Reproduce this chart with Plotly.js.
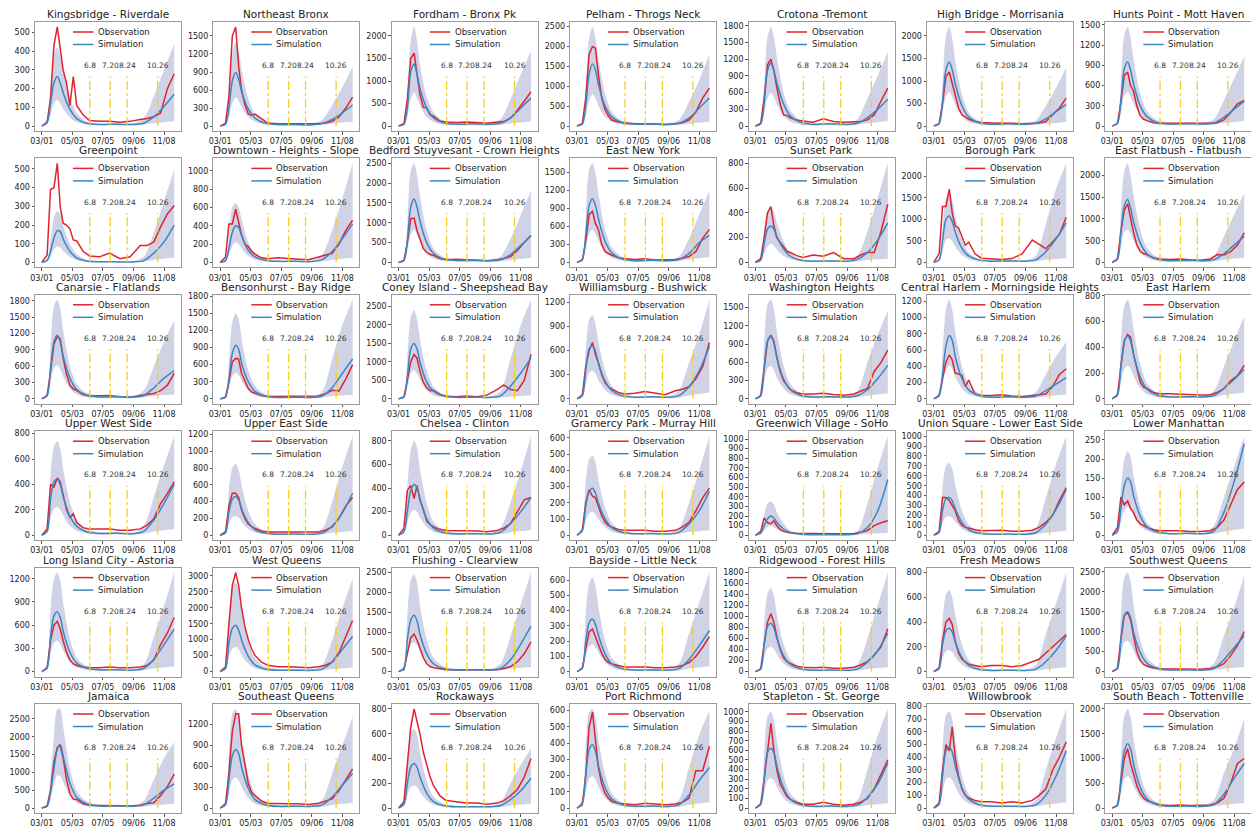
<!DOCTYPE html>
<html><head><meta charset="utf-8">
<script src="https://cdn.plot.ly/plotly-3.0.1.min.js"></script>
<style>html,body{margin:0;padding:0;background:#fff}</style>
</head><body>
<div id="chart" style="width:1251px;height:829px"></div>
<script>
const TITLES = ["Kingsbridge - Riverdale","Northeast Bronx","Fordham - Bronx Pk","Pelham - Throgs Neck","Crotona -Tremont","High Bridge - Morrisania","Hunts Point - Mott Haven",
"Greenpoint","Downtown - Heights - Slope","Bedford Stuyvesant - Crown Heights","East New York","Sunset Park","Borough Park","East Flatbush - Flatbush",
"Canarsie - Flatlands","Bensonhurst - Bay Ridge","Coney Island - Sheepshead Bay","Williamsburg - Bushwick","Washington Heights","Central Harlem - Morningside Heights","East Harlem",
"Upper West Side","Upper East Side","Chelsea - Clinton","Gramercy Park - Murray Hill","Greenwich Village - SoHo","Union Square - Lower East Side","Lower Manhattan",
"Long Island City - Astoria","West Queens","Flushing - Clearview","Bayside - Little Neck","Ridgewood - Forest Hills","Fresh Meadows","Southwest Queens",
"Jamaica","Southeast Queens","Rockaways","Port Richmond","Stapleton - St. George","Willowbrook","South Beach - Tottenville"];

const DTICKS = [100,300,500,500,300,500,300, 100,200,500,300,200,500,500, 300,300,500,300,300,200,200, 200,200,200,100,100,100,50, 300,500,500,100,200,200,500, 500,300,200,100,100,100,500];

const OBS_DATES = ["2020-03-01","2020-03-12","2020-03-19","2020-03-26","2020-04-02","2020-04-08","2020-04-14","2020-04-21","2020-04-28","2020-05-05","2020-05-12","2020-05-25","2020-06-07","2020-06-28","2020-07-19","2020-08-09","2020-08-30","2020-09-20","2020-10-04","2020-10-18","2020-11-01","2020-11-15","2020-11-29"];
const SIM_DATES = ["2020-03-01","2020-03-12","2020-03-19","2020-03-26","2020-04-02","2020-04-08","2020-04-15","2020-04-28","2020-05-12","2020-06-01","2020-06-28","2020-08-02","2020-09-06","2020-09-27","2020-10-18","2020-11-08","2020-11-29"];

const OBS = [
[0,20,150,430,530,400,300,230,110,265,110,60,30,25,25,20,25,35,40,50,70,200,280],
[0,50,500,1500,1650,1000,600,350,200,180,200,120,50,40,40,35,30,40,50,80,150,300,480],
[0,50,600,1500,1620,1100,700,420,400,250,220,110,90,80,90,80,60,90,100,180,350,550,760],
[0,60,700,1800,1990,1950,1300,700,400,250,150,100,80,60,60,50,40,60,80,150,350,700,950],
[0,50,500,1100,1200,1000,700,400,200,190,150,110,90,70,130,80,70,70,80,110,200,450,680],
[0,50,500,1100,1200,950,750,400,250,200,150,100,80,70,70,60,50,60,70,100,250,400,620],
[0,40,350,750,800,600,520,300,150,100,80,50,40,40,40,35,30,40,50,90,200,330,380],
[0,40,390,400,530,300,210,200,180,120,115,60,35,30,50,20,30,90,90,110,190,260,305],
[0,60,420,420,580,450,300,200,170,120,90,50,40,50,40,35,30,60,80,100,200,350,460],
[0,50,500,1100,1120,800,600,350,250,200,180,100,70,80,70,50,40,70,100,150,300,500,680],
[0,40,350,800,850,650,550,300,180,150,120,80,60,50,60,40,40,50,70,100,180,400,550],
[0,30,200,400,450,300,200,160,120,90,80,55,40,60,50,80,30,30,60,80,80,250,470],
[0,200,1300,1300,1700,1150,850,800,600,400,470,200,100,80,70,90,200,520,430,320,480,650,1050],
[0,80,700,1200,1350,1000,700,400,250,200,180,100,80,70,80,60,50,80,180,170,250,400,680],
[0,60,500,1000,1150,1100,750,450,250,180,150,80,50,50,60,40,30,60,80,100,150,250,470],
[0,30,300,650,710,700,450,300,180,120,100,60,40,40,50,40,40,50,90,150,140,350,600],
[0,50,500,1000,1200,1100,750,450,300,220,230,120,70,60,80,60,100,250,380,250,220,500,1200],
[0,50,400,600,700,550,450,300,200,150,120,80,60,70,90,70,50,100,120,150,250,400,700],
[0,50,500,950,1050,950,700,450,300,220,150,100,80,80,90,70,60,80,130,170,450,600,800],
[0,40,250,450,540,480,320,300,290,150,230,60,40,40,50,35,30,40,50,60,150,300,370],
[0,30,250,450,500,480,350,250,130,90,80,50,40,40,35,30,30,30,50,80,140,180,260],
[0,50,400,380,450,420,320,200,140,170,100,60,50,50,50,40,40,50,80,130,250,330,420],
[0,40,350,500,500,450,300,200,130,100,80,50,40,40,40,35,35,40,60,100,200,350,450],
[0,60,380,420,310,420,300,220,120,90,70,50,40,40,40,35,30,40,60,100,200,300,320],
[0,30,200,280,240,230,180,120,80,60,50,35,30,30,30,25,25,30,50,80,150,230,290],
[0,40,180,130,120,150,100,60,40,30,25,20,18,18,18,15,15,18,30,50,100,130,150],
[0,40,380,380,350,300,250,150,100,80,70,55,45,50,50,40,40,50,80,130,200,350,480],
[0,20,100,80,90,70,60,40,30,25,20,15,12,12,12,10,10,12,20,40,80,120,140],
[0,50,400,600,650,550,400,250,150,100,80,60,50,50,60,50,50,60,80,150,350,500,700],
[0,150,1500,2700,3100,2700,2000,1400,1000,700,500,300,200,150,150,130,120,150,200,300,600,1100,1600],
[0,50,450,850,950,800,600,350,200,130,100,70,50,50,50,40,40,50,80,130,250,450,750],
[0,20,150,260,280,230,180,120,80,60,50,40,30,30,30,25,25,30,40,60,100,160,230],
[0,50,500,900,1050,900,650,400,250,180,150,100,80,70,80,60,60,80,120,180,300,450,780],
[0,30,250,400,430,380,250,150,100,80,60,50,40,50,50,40,50,80,100,150,200,250,300],
[0,80,800,1400,1480,1300,900,500,280,180,140,90,70,70,70,60,60,80,120,200,400,650,1000],
[0,60,500,1300,1700,1750,1400,800,400,250,240,120,80,70,80,70,60,80,130,150,350,600,950],
[0,60,500,1100,1350,1350,900,600,350,220,180,100,70,60,60,60,50,70,100,130,250,400,560],
[0,50,350,650,800,700,600,450,350,250,180,100,60,50,40,40,30,40,60,100,150,250,400],
[0,20,200,500,590,400,250,150,90,60,40,30,25,20,30,25,20,25,35,60,230,230,380],
[0,40,300,600,880,600,400,250,180,120,90,60,40,40,60,40,30,40,60,100,200,350,500],
[0,40,300,500,450,640,400,250,150,100,80,60,50,50,40,50,40,60,100,150,300,400,520],
[0,50,500,1000,1200,900,700,450,300,200,150,100,60,50,60,50,50,60,100,200,500,900,1000]
];

const SIM = [
[0,20,120,230,265,230,170,90,40,15,8,10,8,15,50,105,170],
[0,30,300,750,890,780,550,280,130,50,25,25,20,40,110,220,350],
[0,40,400,1200,1380,1150,800,400,180,70,40,50,40,60,180,400,620],
[0,50,500,1300,1550,1400,1000,500,230,90,50,50,40,70,200,450,700],
[0,40,400,1000,1130,1000,750,400,180,70,30,40,30,50,150,300,480],
[0,50,550,1250,1420,1250,900,450,200,80,40,50,40,60,160,320,480],
[0,40,380,850,950,830,600,300,140,55,30,35,30,45,130,250,370],
[0,10,60,130,170,165,120,60,25,8,4,3,3,10,50,110,200],
[0,20,150,330,400,380,280,130,60,25,12,12,10,30,120,260,420],
[0,50,550,1400,1600,1400,1000,500,230,90,50,55,45,70,200,430,680],
[0,50,450,950,1060,950,700,350,160,60,30,35,30,50,150,330,450],
[0,20,150,270,295,270,200,110,50,20,10,12,10,25,80,180,320],
[0,60,500,1000,1080,950,680,330,150,60,30,35,30,60,250,550,920],
[0,80,700,1300,1450,1250,900,450,200,80,40,45,40,60,200,400,600],
[0,60,550,1050,1170,1050,750,380,170,70,35,40,35,60,200,380,520],
[0,30,350,800,940,870,600,300,130,50,25,30,25,50,200,450,700],
[0,50,600,1350,1500,1350,950,450,200,80,40,45,40,80,350,700,1100],
[0,40,350,620,660,590,420,220,100,40,20,25,20,40,150,350,650],
[0,50,500,950,1030,920,650,330,150,60,30,35,30,50,150,330,550],
[0,40,300,650,780,720,500,250,110,45,20,25,20,35,100,180,260],
[0,30,250,440,490,450,330,170,75,30,15,17,15,25,80,150,230],
[0,30,280,420,440,400,290,150,70,28,14,15,12,30,120,250,400],
[0,30,280,430,460,420,300,150,65,26,13,15,12,25,110,270,500],
[0,30,200,380,430,400,290,140,60,24,12,13,11,25,100,200,320],
[0,30,180,270,290,260,190,100,45,18,9,10,8,18,70,150,270],
[0,20,100,170,200,180,130,65,28,11,5,6,5,15,80,250,580],
[0,30,250,370,380,350,260,130,55,22,11,12,10,25,110,260,460],
[0,10,70,130,150,140,100,50,22,9,4,5,4,10,60,140,240],
[0,50,450,720,770,700,500,250,110,45,22,25,20,40,160,350,550],
[0,100,900,1350,1450,1300,950,480,210,85,42,45,40,80,300,700,1100],
[0,80,800,1300,1420,1280,900,450,200,80,40,45,40,80,300,700,1150],
[0,25,200,320,345,310,230,115,50,20,10,11,10,20,80,170,270],
[0,50,480,820,880,800,580,290,130,52,26,28,24,45,170,380,700],
[0,25,220,330,350,320,230,115,50,20,10,11,10,20,80,170,290],
[0,80,800,1400,1500,1350,950,480,210,85,42,45,40,80,300,600,900],
[0,50,450,1100,1650,1780,1400,700,300,120,55,60,55,90,280,500,680],
[0,50,400,750,840,780,560,280,120,48,24,27,24,45,160,330,500],
[0,30,200,330,360,330,240,120,52,21,10,11,10,20,70,140,240],
[0,30,200,360,390,350,250,125,55,22,11,12,10,20,80,170,250],
[0,40,300,580,620,580,420,210,92,37,18,20,17,30,110,250,470],
[0,30,250,450,480,440,320,160,70,28,14,15,13,25,100,250,450],
[0,60,600,1150,1300,1200,850,420,180,72,36,40,35,70,280,600,900]
];

const UPPER = [
[0,40,200,380,420,380,290,150,70,25,12,15,15,40,160,300,440],
[0,60,500,1200,1400,1250,900,450,200,80,40,40,40,100,350,650,980],
[0,80,700,1900,2200,1900,1300,650,300,120,70,80,70,150,600,1150,1660],
[0,90,900,2200,2480,2200,1600,800,350,140,80,80,70,150,600,1150,1800],
[0,80,700,1600,1780,1600,1200,600,280,110,60,60,50,120,500,900,1330],
[0,90,900,2000,2200,1950,1400,700,300,120,70,70,60,120,450,850,1300],
[0,80,650,1350,1470,1300,950,470,220,90,50,55,50,100,380,700,1030],
[0,20,120,240,275,260,190,100,45,15,8,8,8,30,160,330,495],
[0,50,300,600,650,600,450,220,100,40,20,20,20,80,350,700,1080],
[0,100,1000,2300,2500,2200,1600,800,350,140,80,80,70,150,600,1200,1800],
[0,90,750,1550,1650,1500,1100,550,250,100,55,55,50,100,400,800,1200],
[0,40,250,420,450,410,310,170,80,30,15,18,15,50,250,520,800],
[0,120,800,1500,1600,1450,1050,520,230,90,50,55,50,150,900,1700,2300],
[0,150,1200,2100,2280,2000,1500,750,330,130,70,70,60,130,600,1100,1600],
[0,120,950,1700,1820,1650,1200,600,270,110,60,60,50,150,600,1050,1430],
[0,70,650,1350,1500,1400,1000,500,220,85,45,45,40,120,700,1300,1740],
[0,100,1100,2200,2400,2150,1550,750,330,130,70,70,60,200,1100,2000,2680],
[0,70,600,980,1040,930,680,350,160,65,35,35,30,100,450,800,1230],
[0,110,900,1550,1630,1480,1080,550,250,100,55,55,50,120,600,1050,1450],
[0,80,550,1100,1220,1100,800,400,180,70,35,35,30,80,300,520,700],
[0,60,450,720,770,700,520,270,120,50,25,25,22,60,250,450,640],
[0,60,480,700,740,680,500,260,120,50,25,25,22,70,300,550,780],
[0,70,550,800,850,780,570,290,130,50,25,25,22,70,400,820,1180],
[0,60,400,720,800,740,540,270,115,45,22,22,20,60,280,550,840],
[0,60,330,470,490,450,330,170,75,30,15,15,13,40,200,400,610],
[0,40,200,330,350,320,230,120,50,20,10,10,9,40,330,700,1030],
[0,60,480,700,730,670,490,250,105,42,21,21,19,70,380,720,1000],
[0,20,120,200,220,205,150,75,33,13,6,6,6,25,100,180,260],
[0,100,800,1200,1280,1170,850,420,180,70,35,35,30,90,450,850,1280],
[0,200,1700,2650,2800,2550,1850,930,410,165,82,80,75,200,1000,2000,2900],
[0,160,1400,2300,2450,2250,1600,800,350,140,70,70,65,200,900,1700,2500],
[0,50,380,580,620,560,410,205,90,36,18,18,16,50,250,450,650],
[0,100,850,1420,1520,1380,1000,500,220,90,45,45,40,120,600,1200,1800],
[0,50,420,620,660,600,440,220,95,38,19,19,17,50,300,550,800],
[0,160,1400,2350,2480,2250,1600,800,350,140,70,70,65,200,900,1600,2400],
[0,100,900,2000,2780,2780,2200,1100,480,190,90,90,85,200,800,1400,1850],
[0,110,800,1350,1420,1300,950,480,210,85,42,42,38,110,500,900,1300],
[0,60,400,600,640,590,430,215,93,37,18,18,16,45,200,350,480],
[0,60,380,590,610,560,410,205,90,36,18,18,16,50,250,450,600],
[0,80,550,950,1000,920,680,340,150,60,30,30,27,80,400,750,1030],
[0,60,450,730,760,700,510,255,110,44,22,22,20,60,300,550,780],
[0,120,1000,1850,2000,1850,1350,680,300,120,60,60,55,160,700,1200,1800]
];

const LOWER = [
[0,10,60,120,140,120,90,45,20,8,4,5,4,8,15,20,25],
[0,15,150,380,480,420,300,150,70,25,10,10,10,20,40,60,70],
[0,20,200,600,750,620,430,200,90,35,15,20,15,30,60,80,100],
[0,25,250,650,800,700,480,230,100,40,20,20,15,30,60,90,110],
[0,20,200,500,600,520,380,190,80,30,12,15,12,25,50,70,90],
[0,25,300,650,760,650,460,220,90,35,15,20,15,25,50,70,90],
[0,20,200,450,510,440,320,160,70,28,12,15,12,20,45,60,80],
[0,5,30,70,85,80,60,30,12,4,2,2,2,5,15,20,25],
[0,10,80,180,220,200,150,70,30,12,5,5,5,10,30,40,50],
[0,25,280,700,820,700,500,240,100,40,18,20,15,30,60,90,110],
[0,20,220,480,550,480,350,170,75,30,12,15,12,25,50,70,90],
[0,10,70,130,150,135,100,55,25,10,4,5,4,8,20,25,30],
[0,30,250,520,560,490,350,170,75,30,12,15,12,25,60,80,100],
[0,40,350,700,760,660,480,240,100,40,18,20,15,30,60,90,110],
[0,30,300,560,620,540,390,190,80,30,12,15,12,25,50,70,80],
[0,15,180,400,460,420,300,150,60,25,10,12,10,20,50,60,70],
[0,25,300,700,780,680,490,230,100,40,18,20,15,30,60,80,100],
[0,15,180,320,350,310,220,110,50,20,8,10,8,15,40,60,80],
[0,25,280,500,540,480,340,170,75,30,12,15,12,25,50,70,90],
[0,20,160,350,410,370,260,130,55,22,8,10,8,15,30,45,55],
[0,15,130,230,255,235,170,85,38,15,6,7,6,12,30,40,50],
[0,15,140,210,225,200,150,75,35,14,6,7,6,12,30,40,50],
[0,15,140,215,230,210,150,75,33,13,6,7,6,12,30,40,50],
[0,15,100,190,215,200,145,70,30,12,5,6,5,10,25,35,45],
[0,15,90,135,145,130,95,50,22,9,4,4,4,8,20,25,30],
[0,10,50,85,95,85,60,30,13,5,2,2,2,5,15,20,25],
[0,15,125,185,190,175,130,65,28,11,5,6,5,10,25,35,45],
[0,5,35,65,75,70,50,25,11,4,2,2,2,4,10,14,18],
[0,25,230,370,400,360,260,130,55,22,9,10,9,18,40,55,65],
[0,50,480,720,780,700,500,250,110,45,18,20,18,35,80,110,130],
[0,40,420,680,740,670,470,240,105,42,17,20,17,35,70,100,120],
[0,12,100,165,180,160,120,60,26,10,4,5,4,8,20,28,35],
[0,25,250,420,450,410,300,150,66,26,10,12,10,20,45,65,80],
[0,12,110,165,175,160,115,58,25,10,4,5,4,8,20,28,35],
[0,40,420,730,770,690,490,245,108,43,17,20,17,35,70,95,115],
[0,25,250,650,920,900,700,350,150,60,25,28,25,40,80,100,120],
[0,25,220,400,440,400,290,145,62,25,10,12,10,20,45,60,75],
[0,15,100,170,185,170,125,62,27,11,4,5,4,8,20,28,35],
[0,15,100,180,195,175,125,62,27,11,4,5,4,8,20,28,35],
[0,20,150,290,310,290,210,105,46,18,7,8,7,14,30,40,50],
[0,15,125,225,240,220,160,80,35,14,6,7,6,12,25,35,45],
[0,30,300,580,640,590,420,210,92,37,15,18,15,30,60,85,100]
];

const EVENT_DATES = ["2020-06-08","2020-07-20","2020-08-24","2020-10-26"];
const EVENT_LABELS = ["6.8","7.20","8.24","10.26"];
const XTICK_DATES = ["2020-03-01","2020-05-03","2020-07-05","2020-09-06","2020-11-08"];
const XTICK_LABELS = ["03/01","05/03","07/05","09/06","11/08"];
const X_RANGE = ["2020-02-16","2020-12-13"];
const LEGEND_LABELS = ["Observation","Simulation"];

// styling / geometry
const FONT = "DejaVu Sans";
const RED = "#e0232d", BLUE = "#3c86c4", BAND = "rgba(40,50,140,0.22)", GOLD = "#f7cf1d";
const FW = 1251, FH = 829;
const COL0 = 35, COLP = 178.4, PW = 146;
const ROW0 = 22, ROWP = 136.4, PH = 109;

const traces = [], shapes = [], annotations = [];
const layout = {
  width: FW, height: FH, margin: {l:0, r:0, t:0, b:0},
  paper_bgcolor: "#fff", plot_bgcolor: "#fff", showlegend: false,
  font: {family: FONT, size: 8, color: "#222"}
};

TITLES.forEach((title, i) => {
  const n = i + 1, r = Math.floor(i / 7), c = i % 7;
  const sx = n === 1 ? "" : String(n);
  const xa = "x" + sx, ya = "y" + sx;
  const L = COL0 + COLP * c, T = ROW0 + ROWP * r;
  const M = Math.max(...OBS[i], ...UPPER[i], ...SIM[i]);
  const common = {
    showline: true, mirror: true, linecolor: "#9a9a9a", linewidth: 1,
    ticks: "outside", ticklen: 2.5, tickwidth: 1, tickcolor: "#555",
    showgrid: false, zeroline: false, fixedrange: true,
    tickfont: {family: FONT, size: 8, color: "#222"}
  };
  layout["xaxis" + sx] = Object.assign({}, common, {
    domain: [L / FW, (L + PW) / FW], anchor: ya, type: "date", range: X_RANGE,
    tickmode: "array", tickvals: XTICK_DATES, ticktext: XTICK_LABELS
  });
  layout["yaxis" + sx] = Object.assign({}, common, {
    domain: [1 - (T + PH) / FH, 1 - T / FH], anchor: xa,
    range: [-0.05 * M, 1.05 * M], tickmode: "linear", tick0: 0, dtick: DTICKS[i]
  });

  traces.push({x: SIM_DATES, y: LOWER[i], xaxis: xa, yaxis: ya, mode: "lines",
    line: {width: 0, shape: "spline", smoothing: 0.8}, hoverinfo: "skip", showlegend: false});
  traces.push({x: SIM_DATES, y: UPPER[i], xaxis: xa, yaxis: ya, mode: "lines", fill: "tonexty",
    fillcolor: BAND, line: {width: 0, shape: "spline", smoothing: 0.8}, hoverinfo: "skip", showlegend: false});
  traces.push({x: OBS_DATES, y: OBS[i], xaxis: xa, yaxis: ya, mode: "lines", name: LEGEND_LABELS[0],
    line: {color: RED, width: 1.5}, showlegend: false});
  traces.push({x: SIM_DATES, y: SIM[i], xaxis: xa, yaxis: ya, mode: "lines", name: LEGEND_LABELS[1],
    line: {color: BLUE, width: 1.5, shape: "spline", smoothing: 0.8}, showlegend: false});

  EVENT_DATES.forEach((d, k) => {
    shapes.push({type: "line", xref: xa, yref: ya + " domain", x0: d, x1: d, y0: 0.047, y1: 0.5,
      line: {color: GOLD, width: 1.3, dash: "dashdot"}});
    annotations.push({xref: xa, yref: ya + " domain", x: d, y: 0.6, text: EVENT_LABELS[k],
      showarrow: false, xanchor: "center", yanchor: "middle", borderpad: 0,
      font: {family: FONT, size: 7.5, color: "#333"}});
  });

  // title
  annotations.push({xref: "paper", yref: "paper", x: (L + PW / 2) / FW, y: 1 - (T - 1) / FH,
    text: title, showarrow: false, xanchor: "center", yanchor: "bottom", borderpad: 0,
    font: {family: FONT, size: 10.5, color: "#222"}});

  // legend (drawn manually inside each panel)
  [RED, BLUE].forEach((col, k) => {
    const yy = 1 - (T + 10 + 12.5 * k) / FH;
    shapes.push({type: "line", xref: "paper", yref: "paper",
      x0: (L + 0.26 * PW) / FW, x1: (L + 0.40 * PW) / FW, y0: yy, y1: yy,
      line: {color: col, width: 1.5}});
    annotations.push({xref: "paper", yref: "paper", x: (L + 0.425 * PW) / FW, y: yy,
      text: LEGEND_LABELS[k], showarrow: false, xanchor: "left", yanchor: "middle", borderpad: 0,
      font: {family: FONT, size: 8.5, color: "#222"}});
  });
});

layout.shapes = shapes;
layout.annotations = annotations;
Plotly.newPlot("chart", traces, layout, {staticPlot: true, displayModeBar: false});
</script>
</body></html>
